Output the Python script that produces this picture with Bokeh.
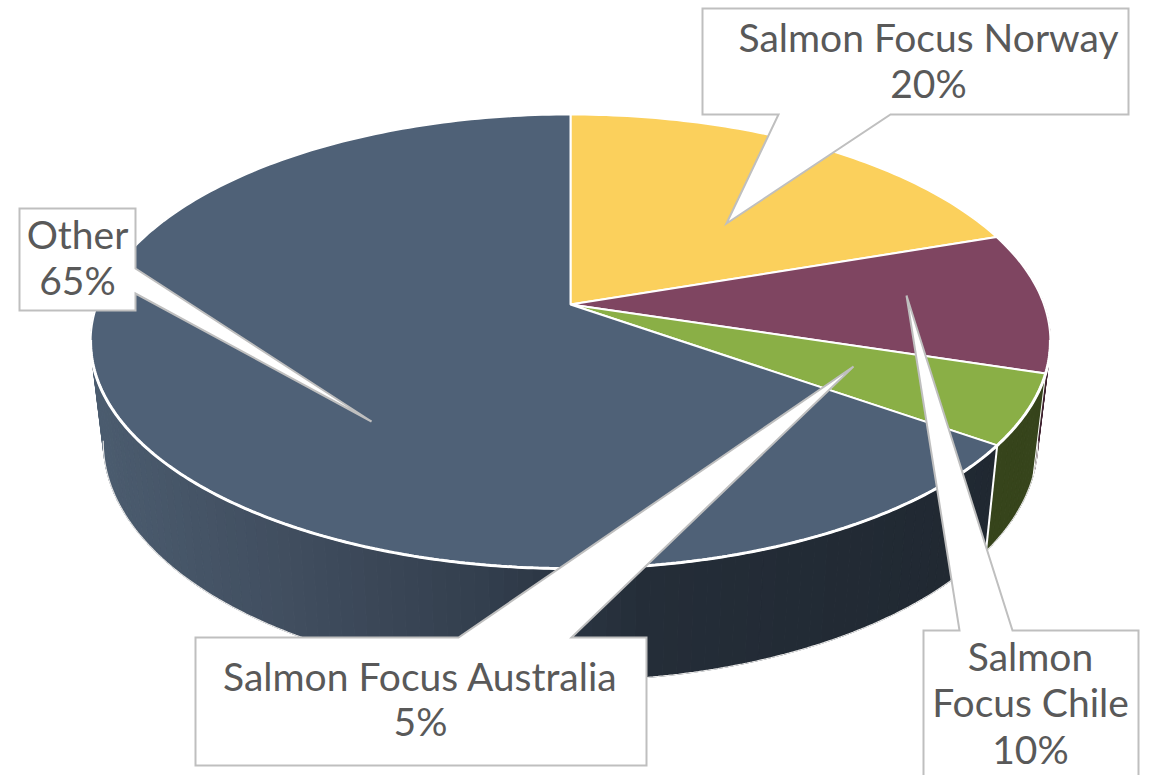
import math
from bokeh.plotting import figure
from bokeh.embed import file_html
from bokeh.resources import INLINE
from bokeh.core.properties import value

# ---- data -------------------------------------------------------------
categories = ["Salmon Focus Norway", "Salmon Focus Chile", "Salmon Focus Australia", "Other"]
labels = ["20%", "10%", "5%", "65%"]
shares = [19.8, 10.0, 5.0, 65.2]     # slice sizes as measured on the picture

# ---- styles -----------------------------------------------------------
top_colors = ["#FBD05C", "#7F4561", "#8AAF46", "#4F6177"]
side_colors = ["#5f4f24", "#3f2230", "#36441B", None]
slate_stops = [(100, (0x4B, 0x5C, 0x6F)), (300, (0x40, 0x4D, 0x5E)), (480, (0x33, 0x3F, 0x4E)),
               (640, (0x24, 0x2D, 0x38)), (1000, (0x20, 0x28, 0x31))]
TEXT = "#595959"
BORDER = "#BFBFBF"
FONT = "Lato"
FS = 39

W, H = 1160, 775
p = figure(width=W, height=H, x_range=(0, W), y_range=(H, 0), toolbar_location=None,
           output_backend="svg", min_border=0, outline_line_color=None, background_fill_color="white")
p.axis.visible = False
p.grid.visible = False

CX = 570.0
K = 0.163


def top_pt(t):
    x, y = math.sin(t), math.cos(t)
    d = 1 + K * y
    return CX + 473.5 * x / d, 304 - 221 * y / d


def bot_pt(t):
    x, y = math.sin(t), math.cos(t)
    d = 1 + K * y
    return CX + 461 * x / d, 403 - 232 * y / d


def slate(x):
    for (x0, c0), (x1, c1) in zip(slate_stops, slate_stops[1:]):
        if x <= x1:
            f = max(0.0, (x - x0) / (x1 - x0))
            return "#%02x%02x%02x" % tuple(round(a + (b - a) * f) for a, b in zip(c0, c1))
    return "#202831"


cum = [0.0]
for s in shares:
    cum.append(cum[-1] + s)
ang = [c / 100 * 2 * math.pi for c in cum]

# ---- side wall (only the front half can be seen) -------------------------
FRONT_A, FRONT_B = math.radians(65), math.radians(295)
qx, qy, qc = [], [], []
for i in range(len(shares)):
    a = max(ang[i], FRONT_A)
    b = min(ang[i + 1], FRONT_B)
    if b <= a:
        continue
    n = max(1, int(math.degrees(b - a) / 1.5))
    for j in range(n):
        t0 = a + (b - a) * j / n
        t1 = a + (b - a) * (j + 1) / n
        p0, p1 = top_pt(t0), top_pt(t1)
        q0, q1 = bot_pt(t0), bot_pt(t1)
        qx.append([p0[0], p1[0], q1[0], q0[0]])
        qy.append([p0[1], p1[1], q1[1], q0[1]])
        qc.append(side_colors[i] or slate((q0[0] + q1[0]) / 2))
p.patches(qx, qy, fill_color=qc, line_color=qc, line_width=1)

# outer outline of the wall and divider between the walls
VIS_A, VIS_B = math.radians(99), math.radians(261)
ts = [VIS_A + (VIS_B - VIS_A) * j / 300 for j in range(301)]
p.line([bot_pt(t)[0] for t in ts], [bot_pt(t)[1] for t in ts], line_color="#E6E6E6", line_width=1.2)
a = top_pt(ang[3])
b = bot_pt(ang[3])
p.line([a[0], b[0]], [a[1], b[1]], line_color="white", line_width=2)
a = top_pt(ang[2])
b = bot_pt(ang[2])
p.line([a[0], b[0]], [a[1], b[1]], line_color="white", line_width=1)

# ---- top face --------------------------------------------------------------
for i in range(len(shares)):
    n = max(4, int(math.degrees(ang[i + 1] - ang[i]) / 1.0))
    pts = [top_pt(ang[i] + (ang[i + 1] - ang[i]) * j / n) for j in range(n + 1)]
    xs = [CX] + [q[0] for q in pts]
    ys = [304.0] + [q[1] for q in pts]
    p.patch(xs, ys, fill_color=top_colors[i], line_color="white", line_width=2)

# the front rim of the top face reads heavier than the back rim
p.line([top_pt(t)[0] for t in ts], [top_pt(t)[1] for t in ts], line_color="white", line_width=3)

# ---- callouts ---------------------------------------------------------------
callouts = [
    ([702, 778, 726, 890, 1128, 1128, 702], [114, 114, 223, 114, 114, 8, 8],
     [(928, 36, categories[0]), (928, 82, labels[0])]),
    ([923, 959, 906, 1012, 1138, 1138, 923], [630, 630, 295, 630, 630, 790, 790],
     [(1030, 655, "Salmon"), (1030, 701, "Focus Chile"), (1030, 748, labels[1])]),
    ([195, 458, 853, 571, 646, 646, 195], [637, 637, 366, 637, 637, 765, 765],
     [(420, 675, categories[2]), (420, 720, labels[2])]),
    ([19, 135, 135, 371, 135, 135, 19], [208, 208, 268, 421, 293, 310, 310],
     [(77, 233, categories[3]), (77, 279, labels[3])]),
]
for xs, ys, texts in callouts:
    p.patch(xs, ys, fill_color="white", line_color=BORDER, line_width=2, line_join="miter")
    for tx, ty, tt in texts:
        p.text([tx], [ty], text=[tt], text_font=value(FONT), text_font_size=f"{FS}px",
               text_color=TEXT, text_align="center", text_baseline="middle")

open("out.html", "w").write(file_html(p, INLINE))
